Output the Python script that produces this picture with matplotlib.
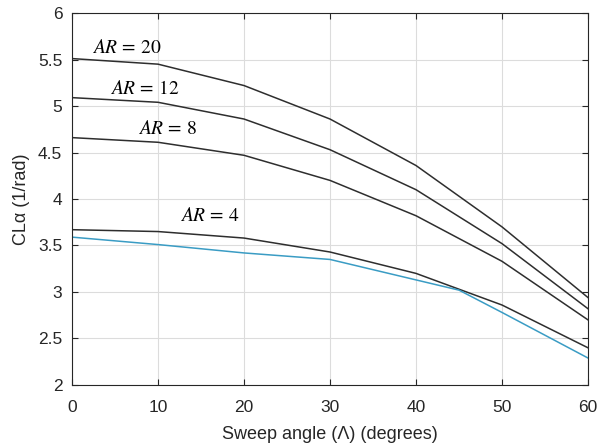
import matplotlib
matplotlib.use("Agg")
import matplotlib.pyplot as plt

plt.rcParams['font.family'] = ['Liberation Sans', 'DejaVu Sans']
plt.rcParams['mathtext.fontset'] = 'stix'

sweep = [0, 10, 20, 30, 40, 50, 60]
cla_ar20 = [5.51, 5.45, 5.22, 4.86, 4.36, 3.70, 2.94]
cla_ar12 = [5.09, 5.04, 4.86, 4.53, 4.10, 3.52, 2.82]
cla_ar8 = [4.66, 4.61, 4.47, 4.20, 3.82, 3.33, 2.70]
cla_ar4 = [3.67, 3.65, 3.58, 3.43, 3.20, 2.86, 2.40]

sweep_ref = [0, 10, 20, 30, 40, 45, 50, 60]
cla_ref = [3.59, 3.51, 3.42, 3.35, 3.13, 3.02, 2.78, 2.29]

labels = ["$AR\\,=\\,20$", "$AR\\,=\\,12$", "$AR\\,=\\,8$", "$AR\\,=\\,4$"]
label_x = [2.3, 4.4, 7.7, 12.6]
label_y = [5.62, 5.18, 4.75, 3.82]

fig = plt.figure(figsize=(5.98, 4.44), dpi=100)
ax = fig.add_axes([0.1204, 0.1329, 0.8629, 0.8378])

dark = '#2e2e2e'
for ys in (cla_ar20, cla_ar12, cla_ar8, cla_ar4):
    ax.plot(sweep, ys, color=dark, lw=1.1)
ax.plot(sweep_ref, cla_ref, color='#3a9cc4', lw=1.1)

for t, x, y in zip(labels, label_x, label_y):
    ax.text(x, y, t, fontsize=14, va='center', ha='left', color='black')

ax.set_xlim(0, 60)
ax.set_ylim(2, 6)
ax.set_xticks(range(0, 61, 10))
ax.set_yticks([2, 2.5, 3, 3.5, 4, 4.5, 5, 5.5, 6])
ax.set_yticklabels(['2', '2.5', '3', '3.5', '4', '4.5', '5', '5.5', '6'])
ax.grid(True, color='#dcdcdc', lw=0.8)
ax.set_axisbelow(True)
ax.tick_params(direction='in', top=True, right=True, labelsize=12.5,
               colors='#262626', length=4, width=0.8)
ax.tick_params(axis='x', pad=10.5)
ax.tick_params(axis='y', pad=7)
for s in ax.spines.values():
    s.set_color('#262626')
    s.set_linewidth(0.8)

ax.set_xlabel('Sweep angle (\u039b) (degrees)', fontsize=13, color='#262626', labelpad=8)
ax.set_ylabel('CL\u03b1 (1/rad)', fontsize=13, color='#262626', labelpad=6)

fig.savefig('out.png', dpi=100)
